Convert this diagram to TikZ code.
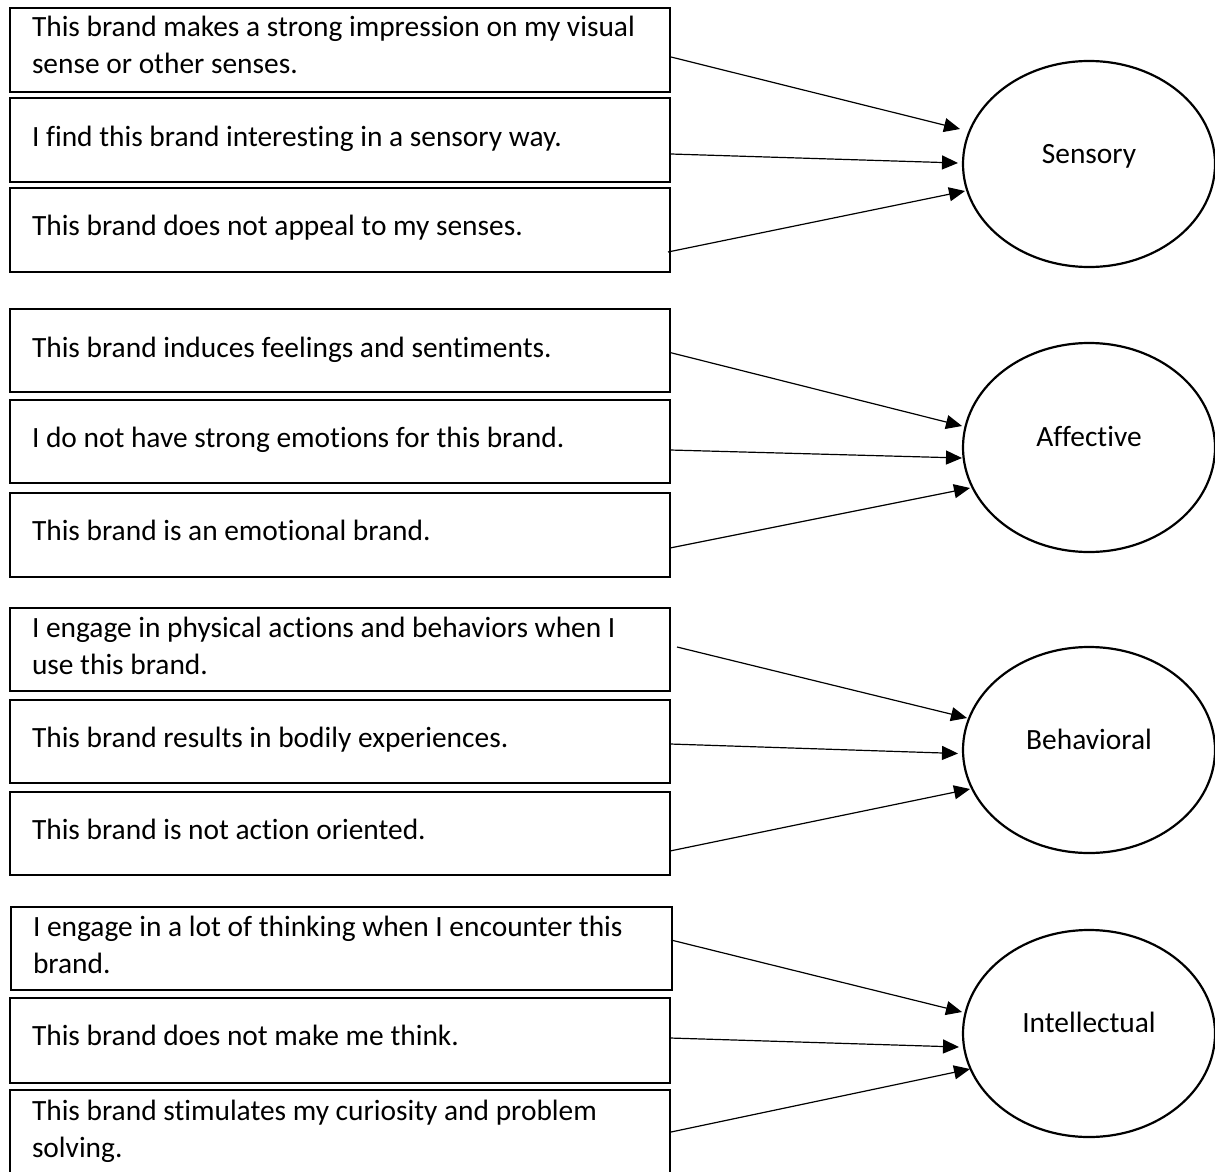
\documentclass[tikz,border=0pt]{standalone}
\usepackage{fontspec}
\setmainfont[RawFeature=-liga]{Carlito}
\usetikzlibrary{arrows.meta,calc,shapes.geometric}

% statement text: first line's baseline is the node's baseline
\newcommand{\stmt}[1]{\parbox[t]{640pt}{\raggedright #1}}

\begin{document}
\begin{tikzpicture}[x=1pt,y=-1pt,
  itembox/.style={draw, line width=2.2pt, minimum width=660pt, minimum height=84pt,
    inner sep=0pt, outer sep=0pt},
  itemtext/.style={anchor=base west, inner sep=0pt, outer sep=0pt,
    font=\fontsize{29.4}{37}\selectfont},
  construct/.style={draw, ellipse, line width=2.2pt, minimum width=252pt,
    minimum height=206pt, inner sep=0pt, outer sep=0pt,
    text height=0pt, text depth=2pt, font=\fontsize{29.4}{37}\selectfont},
  link/.style={line width=1.2pt, -{Triangle[length=16pt,width=14pt]}}]

\fill[white] (0,0) rectangle (1215,1172);
\useasboundingbox (0,0) rectangle (1215,1172);

% ---------------- Sensory ----------------
\node[itembox] (s1) at (340,50) {};
\node[itembox] (s2) at (340,140) {};
\node[itembox] (s3) at (340,230) {};
\node[itemtext] (s1t) at (32,37) {\stmt{This brand makes a strong impression on my visual\\sense or other senses.}};
\node[itemtext] (s2t) at (32,146) {\stmt{I find this brand interesting in a sensory way.}};
\node[itemtext] (s3t) at (32,235) {\stmt{This brand does not appeal to my senses.}};
\node[construct] (se) at (1089,164) {Sensory};
\draw[link] ($(s1.east)+(1,7)$)  -- ($(se.center)+(-129,-35)$);
\draw[link] ($(s2.east)+(1,14)$) -- ($(se.center)+(-131,-1)$);
\draw[link] ($(s3.east)+(-2,22)$) -- ($(se.center)+(-124,27)$);

% ---------------- Affective ----------------
\node[itembox, minimum height=83pt] (a1) at (340,350.5) {};
\node[itembox, minimum height=83pt] (a2) at (340,441.5) {};
\node[itembox] (a3) at (340,535) {};
\node[itemtext] (a1t) at (32,357) {\stmt{This brand induces feelings and sentiments.}};
\node[itemtext] (a2t) at (32,447) {\stmt{I do not have strong emotions for this brand.}};
\node[itemtext] (a3t) at (32,540) {\stmt{This brand is an emotional brand.}};
\node[construct, minimum height=209pt] (ae) at (1089,447.5) {Affective};
\draw[link] ($(a1.east)+(0,2)$)   -- ($(ae.center)+(-127,-21.5)$);
\draw[link] ($(a2.east)+(0,8.5)$) -- ($(ae.center)+(-127,10.5)$);
\draw[link] ($(a3.east)+(0,13)$)  -- ($(ae.center)+(-119,40.5)$);

% ---------------- Behavioral ----------------
\node[itembox, minimum height=83pt] (b1) at (340,649.5) {};
\node[itembox, minimum height=83pt] (b2) at (340,741.5) {};
\node[itembox, minimum height=83pt] (b3) at (340,833.5) {};
\node[itemtext] (b1t) at (32,637) {\stmt{I engage in physical actions and behaviors when I\\use this brand.}};
\node[itemtext] (b2t) at (32,747.5) {\stmt{This brand results in bodily experiences.}};
\node[itemtext] (b3t) at (32,839.5) {\stmt{This brand is not action oriented.}};
\node[construct] (be) at (1089,750) {Behavioral};
\draw[link] ($(b1.east)+(7,-2.5)$) -- ($(be.center)+(-122,-32)$);
\draw[link] ($(b2.east)+(0,2.5)$)  -- ($(be.center)+(-131,3.5)$);
\draw[link] ($(b3.east)+(0,17.5)$) -- ($(be.center)+(-119,39)$);

% ---------------- Intellectual ----------------
\node[itembox, minimum width=661pt, minimum height=83pt] (i1) at (341.5,948.5) {};
\node[itembox, minimum height=85pt] (i2) at (340,1040.5) {};
\node[itembox, minimum height=90pt] (i3) at (340,1135) {};
\node[itemtext] (i1t) at (33,936) {\stmt{I engage in a lot of thinking when I encounter this\\brand.}};
\node[itemtext] (i2t) at (32,1045.5) {\stmt{This brand does not make me think.}};
\node[itemtext] (i3t) at (32,1120) {\stmt{This brand stimulates my curiosity and problem\\solving.}};
\node[construct, minimum height=207pt] (ie) at (1089,1033.5) {Intellectual};
\draw[link] ($(i1.east)+(-1,-8.5)$) -- ($(ie.center)+(-127,-21.5)$);
\draw[link] ($(i2.east)+(0,-2.5)$)  -- ($(ie.center)+(-130,13.5)$);
\draw[link] ($(i3.east)+(1,-3)$)    -- ($(ie.center)+(-119,35.5)$);

\end{tikzpicture}
\end{document}
